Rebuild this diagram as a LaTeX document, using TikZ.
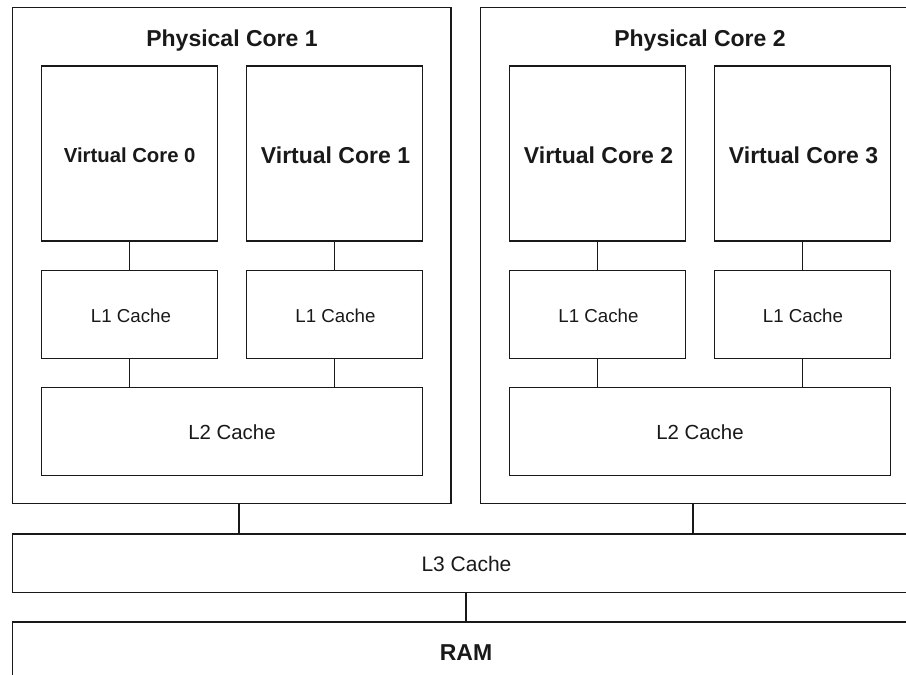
\documentclass[tikz,border=0pt]{standalone}
\usepackage{fontspec}
\setmainfont{Liberation Sans}
\begin{document}
\begin{tikzpicture}[x=1pt,y=-1pt,
  box/.style={draw=black!90,line width=1.3pt,rectangle,inner sep=0pt,outer sep=0pt,fill=white},
  bigbold/.style={font=\fontsize{23}{27}\selectfont\bfseries,anchor=base,inner sep=0pt,text=black!90},
  wire/.style={draw=black!90,line width=1.3pt}]
\useasboundingbox (0,0) rectangle (906,675);
% physical cores
\node[box,minimum width=438.3pt,minimum height=496.2pt] (pc1) at (231.85,255.6) {};
\node[box,minimum width=438.6pt,minimum height=496.2pt] (pc2) at (700,255.6) {};
% virtual cores
\node[box,minimum width=176pt,minimum height=175pt] (vc0) at (129.7,153.5) {};
\node[box,minimum width=176pt,minimum height=175pt] (vc1) at (334.3,153.5) {};
\node[box,minimum width=176pt,minimum height=175pt] (vc2) at (597.7,153.5) {};
\node[box,minimum width=176pt,minimum height=175pt] (vc3) at (802.3,153.5) {};
% L1
\node[box,minimum width=176pt,minimum height=88pt] (l1a) at (129.7,314.3) {};
\node[box,minimum width=176pt,minimum height=88pt] (l1b) at (334.3,314.3) {};
\node[box,minimum width=176pt,minimum height=88pt] (l1c) at (597.7,314.3) {};
\node[box,minimum width=176pt,minimum height=88pt] (l1d) at (802.3,314.3) {};
% L2
\node[box,minimum width=380.6pt,minimum height=88pt] (l2a) at (232,431.3) {};
\node[box,minimum width=380.6pt,minimum height=88pt] (l2b) at (700,431.3) {};
% L3 and RAM
\node[box,minimum width=906.6pt,minimum height=58.5pt] (l3) at (466,563.2) {};
\node[box,minimum width=906.6pt,minimum height=58.5pt] (ram) at (466,651.2) {};
% connectors
\draw[wire] (vc0.south) -- (l1a.north);
\draw[wire] (vc1.south) -- (l1b.north);
\draw[wire] (vc2.south) -- (l1c.north);
\draw[wire] (vc3.south) -- (l1d.north);
\draw[wire] (l1a.south) -- (l1a.south |- l2a.north);
\draw[wire] (l1b.south) -- (l1b.south |- l2a.north);
\draw[wire] (l1c.south) -- (l1c.south |- l2b.north);
\draw[wire] (l1d.south) -- (l1d.south |- l2b.north);
\draw[wire] ([xshift=7pt]pc1.south) -- ([xshift=7pt]pc1.south |- l3.north);
\draw[wire] ([xshift=-7pt]pc2.south) -- ([xshift=-7pt]pc2.south |- l3.north);
\draw[wire] (l3.south) -- (ram.north);
% labels
\node[bigbold] (tpc1) at (232,46) {Physical Core 1};
\node[bigbold] (tpc2) at (700,46) {Physical Core 2};
\node[bigbold,font=\fontsize{20.3}{24}\selectfont\bfseries] (tvc0) at (129.7,162.5) {Virtual Core 0};
\node[bigbold] (tvc1) at (335.5,163) {Virtual Core 1};
\node[bigbold] (tvc2) at (598.5,163) {Virtual Core 2};
\node[bigbold] (tvc3) at (803.5,163) {Virtual Core 3};
\node[bigbold,font=\fontsize{18.7}{22}\selectfont] (tl1a) at (131,322.5) {L1 Cache};
\node[bigbold,font=\fontsize{18.7}{22}\selectfont] (tl1b) at (335.5,322.5) {L1 Cache};
\node[bigbold,font=\fontsize{18.7}{22}\selectfont] (tl1c) at (598.5,322.5) {L1 Cache};
\node[bigbold,font=\fontsize{18.7}{22}\selectfont] (tl1d) at (803,322.5) {L1 Cache};
\node[bigbold,font=\fontsize{20.4}{24}\selectfont] (tl2a) at (232,439) {L2 Cache};
\node[bigbold,font=\fontsize{20.4}{24}\selectfont] (tl2b) at (700,439) {L2 Cache};
\node[bigbold,font=\fontsize{21}{25}\selectfont] (tl3) at (466.5,571) {L3 Cache};
\node[bigbold] (tram) at (466,660) {RAM};
\end{tikzpicture}
\end{document}
